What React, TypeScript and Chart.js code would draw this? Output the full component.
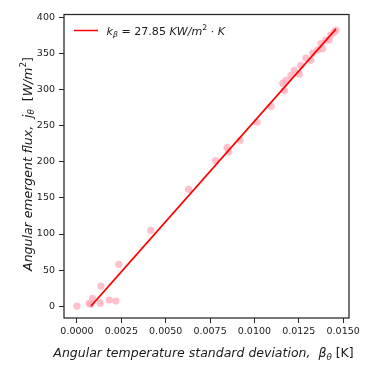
import React, { useEffect, useRef } from "react";
import { Chart, registerables } from "chart.js";

Chart.register(...registerables);

// Scatter data: angular temperature std deviation (K) vs angular emergent flux (W/m^2)
const betaValues = [
  0.0, 0.00069, 0.00079, 0.00088, 0.00131, 0.00135, 0.00182, 0.00219, 0.00236,
  0.00416, 0.00629, 0.00781, 0.00846, 0.00854, 0.0092, 0.01015, 0.01094,
  0.0116, 0.01169, 0.01178, 0.01206, 0.01225, 0.01253, 0.01262, 0.0129,
  0.01318, 0.01328, 0.01356, 0.01375, 0.01384, 0.01403, 0.01421, 0.0143,
  0.01449, 0.01459,
];
const fluxValues = [
  0, 3.7, 2.4, 10.7, 4, 27.8, 8.3, 7, 58,
  105, 162, 202, 220, 214, 230, 255, 277,
  309, 299, 313, 320, 327, 322, 334, 344,
  341, 351, 355, 364, 357, 369, 369, 376,
  380, 383,
];

// Fit line endpoints
const fitBeta = [0.00079, 0.0146];
const fitFlux = [0, 384.6];

const xTicks = [0.0, 0.0025, 0.005, 0.0075, 0.01, 0.0125, 0.015];
const yTicks = [0, 50, 100, 150, 200, 250, 300, 350, 400];

const legendLabel = "k_β = 27.85 KW/m²·K";

type Seg = { t: string; it?: boolean; sub?: boolean; sup?: boolean };

const FONT = '"DejaVu Sans"';

function drawRich(
  ctx: CanvasRenderingContext2D,
  segs: Seg[],
  x: number,
  y: number,
  size: number,
  align: "left" | "center"
) {
  const fontFor = (s: Seg) =>
    `${s.it ? "italic " : ""}${s.sub || s.sup ? size * 0.7 : size}px ${FONT}`;
  let total = 0;
  for (const s of segs) {
    ctx.font = fontFor(s);
    total += ctx.measureText(s.t).width;
  }
  let cx = align === "center" ? x - total / 2 : x;
  ctx.textAlign = "left";
  ctx.textBaseline = "alphabetic";
  for (const s of segs) {
    ctx.font = fontFor(s);
    const dy = s.sub ? size * 0.22 : s.sup ? -size * 0.42 : 0;
    ctx.fillText(s.t, cx, y + dy);
    cx += ctx.measureText(s.t).width;
  }
}

const decorPlugin = {
  id: "decor",
  afterDraw(chart: any) {
    const ctx: CanvasRenderingContext2D = chart.ctx;
    const a = chart.chartArea;
    ctx.save();
    // frame
    ctx.strokeStyle = "#262626";
    ctx.lineWidth = 1.25;
    ctx.strokeRect(a.left, a.top, a.right - a.left, a.bottom - a.top);

    ctx.fillStyle = "#1a1a1a";
    // x label
    drawRich(
      ctx,
      [
        { t: "Angular temperature standard deviation,  ", it: true },
        { t: "β", it: true },
        { t: "θ", it: true, sub: true },
        { t: " [K]" },
      ],
      203.5,
      357,
      12.5,
      "center"
    );
    // y label
    ctx.save();
    ctx.translate(31.5, 164);
    ctx.rotate(-Math.PI / 2);
    drawRich(
      ctx,
      [
        { t: "Angular emergent flux,  ", it: true },
        { t: "j", it: true },
        { t: "θ", it: true, sub: true },
        { t: "  [" },
        { t: "W/m", it: true },
        { t: "2", sup: true },
        { t: "]" },
      ],
      0,
      0,
      12.5,
      "center"
    );
    ctx.restore();

    // legend
    ctx.strokeStyle = "red";
    ctx.lineWidth = 1.5;
    ctx.beginPath();
    ctx.moveTo(74, 30.5);
    ctx.lineTo(98, 30.5);
    ctx.stroke();
    ctx.fillStyle = "#1a1a1a";
    drawRich(
      ctx,
      [
        { t: "k", it: true },
        { t: "β", it: true, sub: true },
        { t: " = 27.85 " },
        { t: "KW/m", it: true },
        { t: "2", sup: true },
        { t: " · " },
        { t: "K", it: true },
      ],
      106.5,
      34.5,
      11.1,
      "left"
    );
    ctx.restore();
  },
};

export default function App() {
  const ref = useRef<HTMLCanvasElement | null>(null);
  useEffect(() => {
    if (!ref.current) return;
    const tickFont = { family: FONT, size: 9.5 };
    const chart = new Chart(ref.current, {
      type: "scatter",
      data: {
        datasets: [
          {
            type: "line",
            label: legendLabel,
            data: fitBeta.map((x, i) => ({ x, y: fitFlux[i] })),
            borderColor: "red",
            borderWidth: 1.6,
            pointRadius: 0,
            showLine: true,
            fill: false,
          },
          {
            label: "data",
            data: betaValues.map((x, i) => ({ x, y: fluxValues[i] })),
            backgroundColor: "rgba(255,170,186,0.75)",
            borderWidth: 0,
            pointRadius: 3.6,
          },
        ],
      },
      options: {
        animation: false,
        responsive: false,
        layout: { padding: { top: 14.5, right: 26, left: 0, bottom: 0 } },
        plugins: { legend: { display: false }, tooltip: { enabled: false } },
        scales: {
          x: {
            type: "linear",
            min: -0.00073,
            max: 0.01533,
            afterFit: (s: any) => {
              s.height = 57;
            },
            afterBuildTicks: (s: any) => {
              s.ticks = xTicks.map((v) => ({ value: v }));
            },
            border: { display: false },
            grid: {
              display: true,
              drawOnChartArea: false,
              drawTicks: true,
              tickLength: 5,
              tickColor: "#262626",
              tickWidth: 1,
            },
            ticks: {
              color: "#1a1a1a",
              font: tickFont,
              padding: 3,
              maxRotation: 0,
              autoSkip: false,
              callback: (v: any) => Number(v).toFixed(4),
            },
          },
          y: {
            type: "linear",
            min: -16.5,
            max: 404.5,
            afterFit: (s: any) => {
              s.width = 64;
            },
            afterBuildTicks: (s: any) => {
              s.ticks = yTicks.map((v) => ({ value: v }));
            },
            border: { display: false },
            grid: {
              display: true,
              drawOnChartArea: false,
              drawTicks: true,
              tickLength: 5,
              tickColor: "#262626",
              tickWidth: 1,
            },
            ticks: {
              color: "#1a1a1a",
              font: tickFont,
              padding: 4,
              autoSkip: false,
              callback: (v: any) => String(v),
            },
          },
        },
      },
      plugins: [decorPlugin],
    });
    return () => chart.destroy();
  }, []);
  return (
    <div style={{ position: "absolute", left: 0, top: 0, width: 375, height: 375, background: "#fff" }}>
      <canvas ref={ref} width={375} height={375} />
    </div>
  );
}
